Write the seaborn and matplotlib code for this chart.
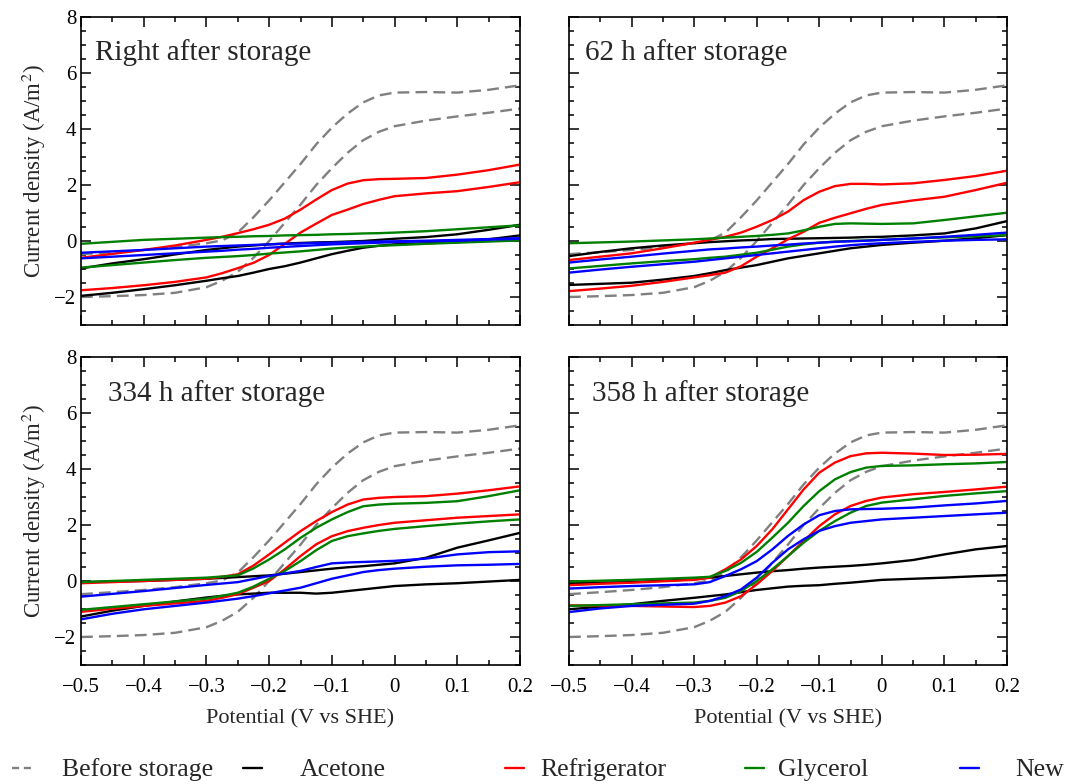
import numpy as np
import pandas as pd
import seaborn as sns
import matplotlib
matplotlib.use("Agg")
import matplotlib.pyplot as plt
from matplotlib.lines import Line2D
from matplotlib.ticker import MultipleLocator

# ---------------- data ----------------
X = [-0.5, -0.45, -0.4, -0.35, -0.3, -0.275, -0.25, -0.225, -0.2, -0.175, -0.15,
     -0.125, -0.1, -0.075, -0.05, -0.025, 0.0, 0.05, 0.1, 0.15, 0.2]

before_up = [-0.47, -0.4, -0.32, -0.22, -0.08, 0.02, 0.3, 0.85, 1.45, 2.1, 2.75, 3.45, 4.05, 4.55, 4.95, 5.2, 5.3, 5.32, 5.3, 5.4, 5.56]
before_lo = [-2.0, -1.97, -1.93, -1.85, -1.65, -1.42, -1.1, -0.6, 0.0, 0.65, 1.3, 2.0, 2.6, 3.15, 3.6, 3.9, 4.1, 4.3, 4.45, 4.58, 4.73]

# Right after storage
p1_acetone_up = [-0.98, -0.8, -0.65, -0.48, -0.32, -0.26, -0.2, -0.16, -0.12, -0.09, -0.07, -0.05, -0.04, -0.02, 0.0, 0.04, 0.08, 0.14, 0.24, 0.4, 0.58]
p1_acetone_lo = [-1.96, -1.85, -1.72, -1.58, -1.42, -1.33, -1.25, -1.13, -1.0, -0.9, -0.77, -0.62, -0.47, -0.35, -0.24, -0.17, -0.12, -0.08, -0.04, 0.06, 0.2]
p1_fridge_up = [-0.6, -0.46, -0.32, -0.16, 0.04, 0.15, 0.28, 0.42, 0.58, 0.8, 1.12, 1.48, 1.82, 2.05, 2.17, 2.21, 2.22, 2.25, 2.37, 2.53, 2.73]
p1_fridge_lo = [-1.76, -1.68, -1.58, -1.46, -1.3, -1.15, -0.97, -0.78, -0.5, -0.1, 0.3, 0.62, 0.93, 1.12, 1.32, 1.47, 1.6, 1.7, 1.78, 1.93, 2.1]
p1_glycerol_up = [-0.1, -0.03, 0.04, 0.08, 0.12, 0.14, 0.15, 0.17, 0.18, 0.2, 0.21, 0.22, 0.24, 0.25, 0.27, 0.28, 0.3, 0.35, 0.42, 0.49, 0.56]
p1_glycerol_lo = [-0.95, -0.86, -0.77, -0.68, -0.6, -0.57, -0.54, -0.5, -0.45, -0.41, -0.37, -0.32, -0.27, -0.23, -0.2, -0.17, -0.15, -0.1, -0.06, -0.02, 0.02]
p1_new_up = [-0.42, -0.37, -0.32, -0.26, -0.2, -0.18, -0.16, -0.14, -0.12, -0.1, -0.09, -0.07, -0.06, -0.04, -0.03, -0.02, -0.01, 0.01, 0.04, 0.07, 0.1]
p1_new_lo = [-0.62, -0.56, -0.5, -0.44, -0.38, -0.35, -0.31, -0.28, -0.24, -0.21, -0.18, -0.15, -0.12, -0.1, -0.08, -0.06, -0.04, -0.01, 0.01, 0.05, 0.08]

# 62 h after storage
p2_acetone_up = [-0.54, -0.39, -0.26, -0.16, -0.08, -0.04, -0.01, 0.02, 0.04, 0.07, 0.08, 0.09, 0.1, 0.11, 0.12, 0.14, 0.15, 0.2, 0.27, 0.45, 0.71]
p2_acetone_lo = [-1.57, -1.53, -1.49, -1.38, -1.25, -1.15, -1.04, -0.95, -0.86, -0.74, -0.62, -0.53, -0.44, -0.35, -0.26, -0.2, -0.14, -0.06, 0.01, 0.1, 0.21]
p2_fridge_up = [-0.68, -0.56, -0.44, -0.26, -0.06, 0.04, 0.15, 0.3, 0.51, 0.75, 1.05, 1.46, 1.76, 1.96, 2.04, 2.04, 2.02, 2.06, 2.18, 2.32, 2.51]
p2_fridge_lo = [-1.79, -1.7, -1.6, -1.46, -1.3, -1.22, -1.13, -0.9, -0.56, -0.26, 0.06, 0.33, 0.65, 0.83, 0.99, 1.15, 1.29, 1.45, 1.58, 1.82, 2.08]
p2_glycerol_up = [-0.08, -0.05, -0.02, 0.02, 0.06, 0.09, 0.12, 0.15, 0.18, 0.22, 0.27, 0.38, 0.51, 0.61, 0.63, 0.62, 0.61, 0.63, 0.75, 0.88, 1.01]
p2_glycerol_lo = [-0.98, -0.89, -0.8, -0.72, -0.65, -0.6, -0.56, -0.49, -0.42, -0.31, -0.2, -0.12, -0.06, -0.02, 0.0, 0.02, 0.04, 0.09, 0.13, 0.17, 0.21]
p2_new_up = [-0.77, -0.66, -0.56, -0.45, -0.35, -0.3, -0.27, -0.23, -0.2, -0.16, -0.13, -0.09, -0.06, -0.03, -0.01, 0.01, 0.04, 0.09, 0.15, 0.22, 0.3]
p2_new_lo = [-1.13, -1.02, -0.92, -0.83, -0.74, -0.68, -0.62, -0.56, -0.5, -0.44, -0.38, -0.32, -0.26, -0.2, -0.15, -0.11, -0.08, -0.03, 0.01, 0.04, 0.06]

# 334 h after storage
p3_acetone_up = [-0.04, -0.02, 0.0, 0.04, 0.08, 0.11, 0.14, 0.17, 0.2, 0.26, 0.32, 0.38, 0.44, 0.49, 0.53, 0.58, 0.63, 0.83, 1.19, 1.45, 1.72]
p3_acetone_lo = [-1.27, -1.06, -0.89, -0.73, -0.59, -0.53, -0.48, -0.45, -0.42, -0.42, -0.42, -0.45, -0.42, -0.36, -0.3, -0.24, -0.18, -0.12, -0.08, -0.02, 0.04]
p3_fridge_up = [-0.08, -0.04, 0.0, 0.04, 0.08, 0.15, 0.24, 0.55, 0.95, 1.37, 1.78, 2.14, 2.46, 2.73, 2.91, 2.97, 3.0, 3.03, 3.12, 3.24, 3.38]
p3_fridge_lo = [-1.1, -0.99, -0.89, -0.8, -0.71, -0.6, -0.47, -0.24, 0.0, 0.42, 0.89, 1.31, 1.6, 1.78, 1.9, 2.0, 2.08, 2.17, 2.26, 2.32, 2.38]
p3_glycerol_up = [-0.04, 0.0, 0.04, 0.08, 0.12, 0.16, 0.2, 0.45, 0.77, 1.13, 1.54, 1.9, 2.2, 2.46, 2.67, 2.73, 2.76, 2.79, 2.85, 3.03, 3.24]
p3_glycerol_lo = [-1.03, -0.93, -0.83, -0.73, -0.63, -0.53, -0.42, -0.2, 0.08, 0.36, 0.71, 1.1, 1.43, 1.6, 1.7, 1.79, 1.86, 1.96, 2.05, 2.13, 2.2]
p3_new_up = [-0.56, -0.46, -0.36, -0.25, -0.14, -0.09, -0.04, 0.07, 0.18, 0.27, 0.36, 0.5, 0.63, 0.66, 0.68, 0.7, 0.72, 0.8, 0.95, 1.03, 1.06]
p3_new_lo = [-1.37, -1.17, -1.01, -0.89, -0.77, -0.7, -0.63, -0.54, -0.44, -0.34, -0.24, -0.08, 0.08, 0.2, 0.32, 0.39, 0.44, 0.51, 0.56, 0.58, 0.61]

# 358 h after storage
p4_acetone_up = [-0.08, -0.06, -0.04, 0.01, 0.06, 0.12, 0.18, 0.24, 0.3, 0.35, 0.39, 0.44, 0.48, 0.51, 0.54, 0.58, 0.63, 0.75, 0.95, 1.13, 1.25]
p4_acetone_lo = [-1.01, -0.92, -0.83, -0.71, -0.6, -0.54, -0.48, -0.4, -0.32, -0.26, -0.2, -0.17, -0.15, -0.1, -0.06, -0.01, 0.04, 0.08, 0.12, 0.17, 0.21]
p4_fridge_up = [-0.15, -0.1, -0.06, -0.01, 0.04, 0.12, 0.42, 0.77, 1.25, 1.85, 2.56, 3.27, 3.87, 4.23, 4.46, 4.56, 4.58, 4.55, 4.5, 4.51, 4.54]
p4_fridge_lo = [-0.87, -0.88, -0.89, -0.91, -0.93, -0.89, -0.77, -0.54, -0.12, 0.36, 0.89, 1.43, 1.96, 2.38, 2.68, 2.86, 2.98, 3.1, 3.18, 3.27, 3.37]
p4_glycerol_up = [-0.02, 0.01, 0.04, 0.08, 0.12, 0.15, 0.36, 0.65, 1.04, 1.55, 2.08, 2.68, 3.21, 3.63, 3.89, 4.05, 4.11, 4.13, 4.17, 4.2, 4.25]
p4_glycerol_lo = [-0.89, -0.86, -0.83, -0.8, -0.77, -0.71, -0.6, -0.36, 0.0, 0.42, 0.89, 1.37, 1.79, 2.14, 2.44, 2.68, 2.8, 2.92, 3.04, 3.13, 3.21]
p4_new_up = [-0.27, -0.22, -0.18, -0.15, -0.12, -0.04, 0.18, 0.42, 0.71, 1.13, 1.61, 2.02, 2.35, 2.5, 2.56, 2.57, 2.58, 2.62, 2.7, 2.77, 2.86]
p4_new_lo = [-1.11, -0.98, -0.89, -0.85, -0.81, -0.71, -0.54, -0.3, 0.12, 0.65, 1.13, 1.49, 1.79, 1.96, 2.08, 2.14, 2.2, 2.26, 2.32, 2.38, 2.44]

panel_titles = ["Right after storage", "62 h after storage", "334 h after storage", "358 h after storage"]
series_names = ["Before storage", "Acetone", "Refrigerator", "Glycerol", "New"]
series_colors = ["#808080", "black", "#ff0000", "#008000", "#0000ff"]
x_ticklabels = ["\u22120.5", "\u22120.4", "\u22120.3", "\u22120.2", "\u22120.1", "0", "0.1", "0.2"]

panels = [
    [(p1_acetone_up, p1_acetone_lo), (p1_fridge_up, p1_fridge_lo), (p1_glycerol_up, p1_glycerol_lo), (p1_new_up, p1_new_lo)],
    [(p2_acetone_up, p2_acetone_lo), (p2_fridge_up, p2_fridge_lo), (p2_glycerol_up, p2_glycerol_lo), (p2_new_up, p2_new_lo)],
    [(p3_acetone_up, p3_acetone_lo), (p3_fridge_up, p3_fridge_lo), (p3_glycerol_up, p3_glycerol_lo), (p3_new_up, p3_new_lo)],
    [(p4_acetone_up, p4_acetone_lo), (p4_fridge_up, p4_fridge_lo), (p4_glycerol_up, p4_glycerol_lo), (p4_new_up, p4_new_lo)],
]

# ---------------- style ----------------
sns.set_theme(style="ticks")
plt.rcParams["font.family"] = ["Liberation Serif", "DejaVu Serif"]
plt.rcParams["mathtext.fontset"] = "stix"
plt.rcParams["axes.linewidth"] = 1.2

fig = plt.figure(figsize=(10.66, 7.84), dpi=100)
W, H = 1066, 784
boxes = [(81, 17, 520, 325), (569, 17, 1007, 325), (81, 357, 520, 665), (569, 357, 1007, 665)]
title_pos = [(0.032, 0.885), (0.037, 0.885), (0.062, 0.88), (0.053, 0.88)]

LW = 1.7
DASH = (5, 2.6)
for i, (l, t, r, b) in enumerate(boxes):
    ax = fig.add_axes([l / W, 1 - b / H, (r - l) / W, (b - t) / H])
    for yy in (before_up, before_lo):
        sns.lineplot(x=X, y=yy, ax=ax, color=series_colors[0], lw=LW, estimator=None,
                     sort=False, legend=False, linestyle=(0, DASH))
    for k, (up, lo) in enumerate(panels[i]):
        for yy in (up, lo):
            sns.lineplot(x=X, y=yy, ax=ax, color=series_colors[k + 1], lw=LW,
                         estimator=None, sort=False, legend=False)
    ax.set_xlim(-0.5, 0.2)
    ax.set_ylim(-3, 8)
    ax.xaxis.set_minor_locator(MultipleLocator(0.05))
    ax.yaxis.set_major_locator(MultipleLocator(2))
    ax.yaxis.set_minor_locator(MultipleLocator(0.5))
    ax.set_xticks([-0.5, -0.4, -0.3, -0.2, -0.1, 0, 0.1, 0.2])
    ax.set_xticklabels(x_ticklabels)
    ax.tick_params(which="both", direction="in", top=True, right=True, labelsize=15,
                   width=1.1, colors="black")
    ax.tick_params(which="major", length=7)
    ax.tick_params(which="minor", length=3.6)
    ax.tick_params(axis="x", pad=9)
    for s in ax.spines.values():
        s.set_color("black")
    if i < 2:
        ax.tick_params(labelbottom=False)
    else:
        ax.set_xlabel("Potential (V vs SHE)", fontsize=16, labelpad=9)
    if i % 2 == 1:
        ax.tick_params(labelleft=False)
    else:
        ax.set_ylabel("Current density (A/m$^2$)", fontsize=16.5, labelpad=4)
    ax.text(title_pos[i][0], title_pos[i][1], panel_titles[i], transform=ax.transAxes,
            fontsize=21, va="center", ha="left")

# legend: separate entries spread along the bottom
leg_x = [12, 243, 505, 745, 960]
text_x = [62, 300, 540, 778, 1015]
LEG_FS = 18.5
fs_px = LEG_FS * 100 / 72
HL = 0.75
for k, name in enumerate(series_names):
    ls = (0, (3, 2)) if k == 0 else "-"
    h = Line2D([], [], color=series_colors[k], lw=LW, linestyle=ls)
    pad = (text_x[k] - leg_x[k]) / fs_px - HL
    fig.legend(handles=[h], labels=[name], loc="center left",
               bbox_to_anchor=(leg_x[k] / W, 1 - 770 / H), frameon=False,
               fontsize=LEG_FS, handlelength=HL, handletextpad=pad,
               borderpad=0, borderaxespad=0)

fig.savefig("out.png", dpi=100)
